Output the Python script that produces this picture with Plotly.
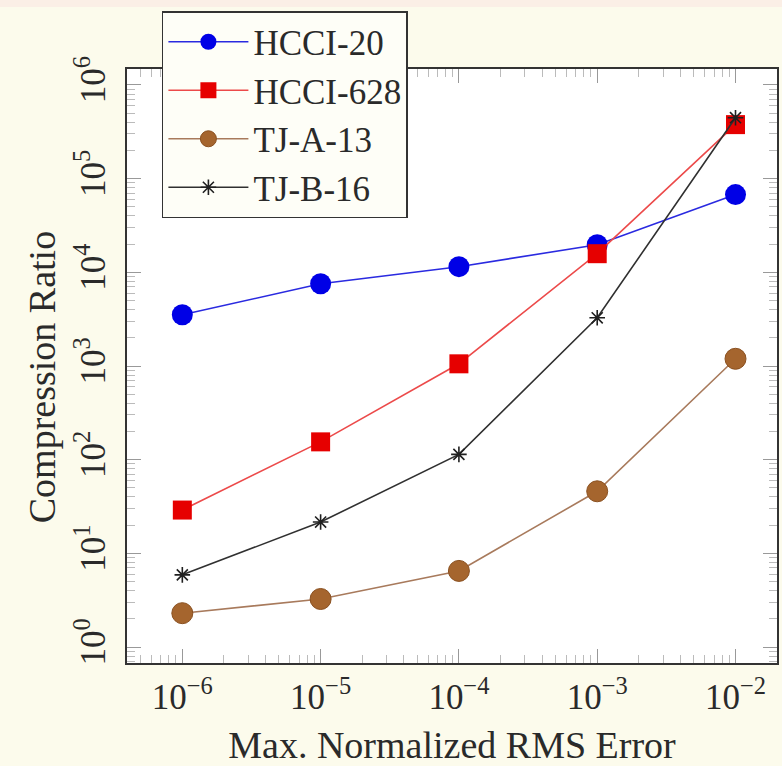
import plotly.graph_objects as go

# ---- data ----
x_err = [1e-6, 1e-5, 1e-4, 1e-3, 1e-2]
hcci20 = [3520, 7550, 11480, 19700, 67500]
hcci628 = [29, 155, 1055, 15800, 377000]
tja13 = [2.3, 3.26, 6.5, 46, 1194]
tjb16 = [5.9, 21.6, 114, 3270, 447000]

x_tickvals = [1e-6, 1e-5, 1e-4, 1e-3, 1e-2]
x_ticktext = ["10<sup>−6</sup>", "10<sup>−5</sup>", "10<sup>−4</sup>", "10<sup>−3</sup>", "10<sup>−2</sup>"]
y_tickvals = [1, 10, 100, 1e3, 1e4, 1e5, 1e6]
y_ticktext = ["10<sup>0</sup>", "10<sup>1</sup>", "10<sup>2</sup>", "10<sup>3</sup>",
              "10<sup>4</sup>", "10<sup>5</sup>", "10<sup>6</sup>"]

x_minor = [m * 10.0 ** k for k in range(-7, -1) for m in range(2, 10)]
y_minor = [m * 10.0 ** k for k in range(-1, 7) for m in range(2, 10)]

FONT = "Liberation Serif"
TXT = "#2a2a2a"

fig = go.Figure()
fig.add_trace(go.Scatter(
    x=x_err, y=hcci20, name="HCCI-20", mode="lines+markers",
    line=dict(color="#2a2ae0", width=1.6),
    marker=dict(symbol="circle", size=21, color="#0000e6", line=dict(width=0))))
fig.add_trace(go.Scatter(
    x=x_err, y=hcci628, name="HCCI-628", mode="lines+markers",
    line=dict(color="#ec4a4a", width=1.6),
    marker=dict(symbol="square", size=19, color="#e60000", line=dict(width=0))))
fig.add_trace(go.Scatter(
    x=x_err, y=tja13, name="TJ-A-13", mode="lines+markers",
    line=dict(color="#a87a5c", width=1.6),
    marker=dict(symbol="circle", size=21, color="#a5652e", line=dict(color="#8a5020", width=1))))
fig.add_trace(go.Scatter(
    x=x_err, y=tjb16, name="TJ-B-16", mode="lines+markers",
    line=dict(color="#303030", width=1.6),
    marker=dict(symbol="asterisk-open", size=13, color="#202020", line=dict(color="#202020", width=1.6))))

axis_common = dict(
    type="log", showline=True, linecolor="#333333", linewidth=1.8, mirror="ticks",
    ticks="inside", ticklen=14, tickcolor="#999999", tickwidth=1,
    showgrid=False, zeroline=False,
    tickfont=dict(family=FONT, size=35, color=TXT),
)

fig.update_xaxes(
    **axis_common,
    range=[-6.4, -1.7],
    tickmode="array", tickvals=x_tickvals, ticktext=x_ticktext,
    ticklabelstandoff=2,
    minor=dict(tickmode="array", tickvals=x_minor, ticks="inside", ticklen=8,
               tickcolor="#bbbbbb", tickwidth=1),
    title=dict(text="Max. Normalized RMS Error", font=dict(family=FONT, size=38, color=TXT),
               standoff=18),
)
fig.update_yaxes(
    **axis_common,
    range=[-0.17, 6.17],
    tickmode="array", tickvals=y_tickvals, ticktext=y_ticktext, tickangle=-90,
    ticklabelstandoff=6,
    minor=dict(tickmode="array", tickvals=y_minor, ticks="inside", ticklen=8,
               tickcolor="#bbbbbb", tickwidth=1),
)

fig.update_layout(
    width=782, height=766,
    margin=dict(l=127, r=3, t=69, b=103),
    paper_bgcolor="#fcfbec",
    plot_bgcolor="#ffffff",
    showlegend=True,
    legend=dict(
        x=0.0537, y=1.0976, xanchor="left", yanchor="top",
        bgcolor="#fefef7", bordercolor="#333333", borderwidth=1.5,
        font=dict(family=FONT, size=35, color=TXT),
        itemwidth=80, tracegroupgap=0,
    ),
    annotations=[dict(text="Compression Ratio", textangle=-90, showarrow=False,
                      xref="paper", yref="paper", x=-0.1304, y=0.4815,
                      xanchor="center", yanchor="middle",
                      font=dict(family=FONT, size=38, color=TXT))],
    shapes=[dict(type="rect", xref="paper", yref="paper",
                 x0=-0.3, x1=1.1, y0=1 + 62 / 594, y1=1 + 69 / 594,
                 fillcolor="#fbefe6", line=dict(width=0), layer="below")],
)

fig.write_html("out.html",
               config={"displayModeBar": False},
               post_script="document.body.style.margin='0';document.body.style.background='#fcfbec';")
